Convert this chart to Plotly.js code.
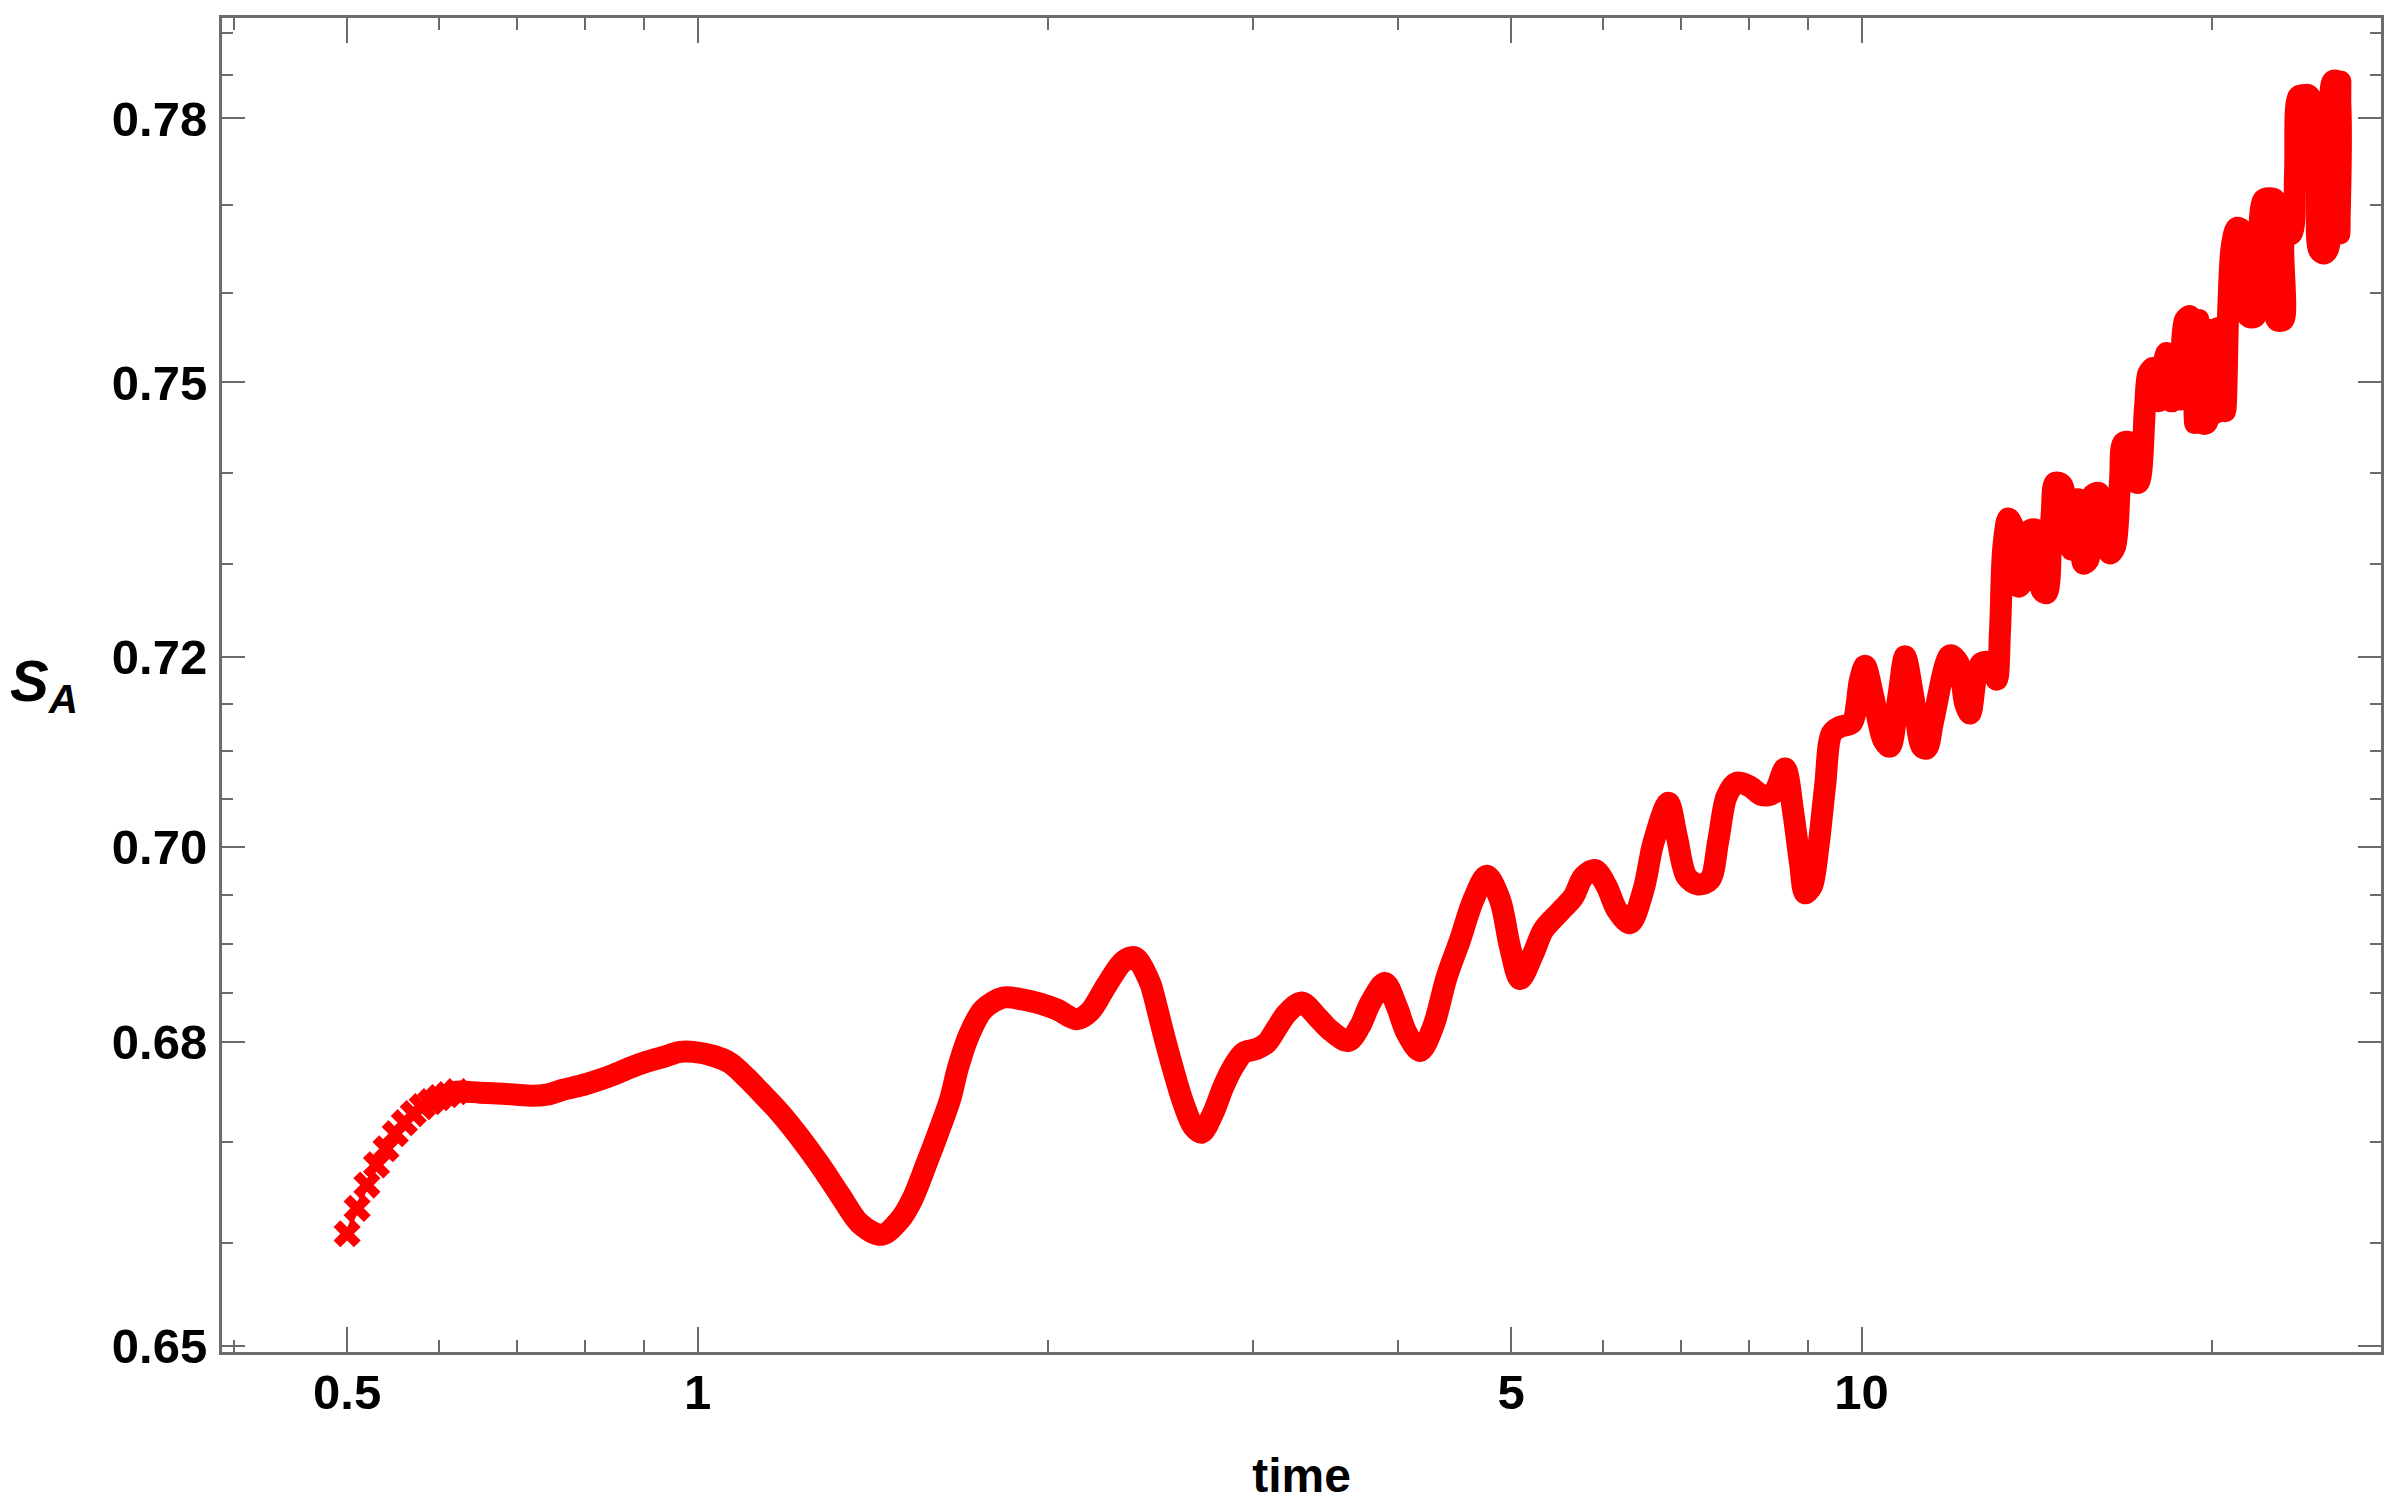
<!DOCTYPE html>
<html>
<head>
<meta charset="utf-8">
<script src="https://cdn.plot.ly/plotly-3.0.1.min.js"></script>
<style>
html, body { margin:0; padding:0; background:#ffffff; }
#chart { width:2400px; height:1509px; }
.scatterlayer path.js-line { stroke-linejoin: round !important; stroke-linecap: round !important; }
</style>
</head>
<body>
<div id="chart"></div>
<script>
// time values (x) and S_A values (y)
const time = [
  0.50, 0.51, 0.52, 0.53, 0.54, 0.55, 0.56, 0.57, 0.58, 0.59, 0.60, 0.61,
  0.621, 0.650, 0.681, 0.718, 0.742, 0.767, 0.793, 0.819, 0.847, 0.875, 0.904, 0.935, 0.966, 0.992,
  1.032, 1.066, 1.102, 1.132, 1.177, 1.225, 1.274, 1.326, 1.379, 1.440, 1.493, 1.528, 1.574, 1.610,
  1.648, 1.675, 1.714, 1.760, 1.831, 1.905, 1.969, 2.035, 2.117, 2.174, 2.247, 2.322, 2.376, 2.448,
  2.464, 2.513, 2.563, 2.614, 2.667, 2.711, 2.774, 2.830, 2.886, 2.944, 3.023, 3.083, 3.145, 3.208,
  3.304, 3.404, 3.495, 3.624, 3.708, 3.783, 3.896, 3.988, 4.067, 4.176, 4.287, 4.402, 4.520, 4.640,
  4.765, 4.892, 4.989, 5.089, 5.225, 5.329, 5.508, 5.655, 5.768, 5.903, 6.041, 6.162, 6.326, 6.495,
  6.625, 6.824, 6.939, 7.077, 7.241, 7.411, 7.534, 7.660, 7.813, 8.022, 8.209, 8.400, 8.597, 8.739,
  8.855, 8.943, 9.063, 9.182, 9.304, 9.428, 9.585, 9.809, 9.971, 10.070, 10.237, 10.442, 10.581,
  10.756, 10.900, 11.080, 11.266, 11.378, 11.527, 11.914, 12.112, 12.273, 12.395, 12.561, 12.685,
  12.896, 13.068, 13.153, 13.239, 13.371, 13.549, 13.638, 13.774, 13.957, 14.144, 14.284, 14.426,
  14.570, 14.665, 14.861, 15.008, 15.158, 15.257, 15.409, 15.509, 15.664, 15.769, 15.977, 16.190,
  16.351, 16.513, 16.677, 16.786, 17.011, 17.122, 17.292, 17.523, 17.638, 17.813, 17.990, 18.111,
  18.291, 18.473, 18.657, 18.779, 18.966, 19.154, 19.345, 19.471, 19.603, 19.798, 19.860, 20.125,
  20.257, 20.527, 20.662, 20.801, 21.008, 21.217, 21.356, 21.496, 21.783, 21.925, 22.143, 22.439,
  22.662, 22.738, 23.037, 23.114, 23.423, 23.576, 23.731, 23.966, 24.205, 24.445, 24.610, 24.723,
  24.968, 25.181, 25.301, 25.402, 25.634, 25.736, 25.787
];
const sA = [
  0.6609, 0.6634, 0.6657, 0.6677, 0.6693, 0.6708, 0.6719, 0.6728, 0.6735, 0.6740, 0.6744, 0.6747,
  0.6750, 0.6749, 0.6748, 0.6746, 0.6747, 0.6752, 0.6756, 0.6761, 0.6767, 0.6774, 0.6780, 0.6785, 0.6790, 0.6790,
  0.6786, 0.6779, 0.6764, 0.6750, 0.6729, 0.6704, 0.6677, 0.6647, 0.6619, 0.6608, 0.6623, 0.6642, 0.6679, 0.6709,
  0.6742, 0.6775, 0.6809, 0.6833, 0.6845, 0.6843, 0.6839, 0.6833, 0.6823, 0.6831, 0.6858, 0.6882, 0.6886, 0.6860,
  0.6849, 0.6809, 0.6772, 0.6739, 0.6715, 0.6709, 0.6729, 0.6755, 0.6775, 0.6789, 0.6793, 0.6799, 0.6814, 0.6829,
  0.6840, 0.6826, 0.6812, 0.6801, 0.6816, 0.6839, 0.6860, 0.6836, 0.6809, 0.6791, 0.6816, 0.6866, 0.6904, 0.6945,
  0.6970, 0.6945, 0.6897, 0.6864, 0.6890, 0.6914, 0.6933, 0.6948, 0.6969, 0.6976, 0.6959, 0.6935, 0.6921, 0.6955,
  0.7004, 0.7046, 0.7011, 0.6969, 0.6961, 0.6966, 0.7007, 0.7053, 0.7067, 0.7063, 0.7054, 0.7056, 0.7082, 0.7035,
  0.6983, 0.6952, 0.6959, 0.7000, 0.7063, 0.7119, 0.7126, 0.7130, 0.7176, 0.7191, 0.7158, 0.7112, 0.7105,
  0.7158, 0.7201, 0.7158, 0.7105, 0.7103, 0.7133, 0.7202, 0.7194, 0.7151, 0.7140, 0.7183, 0.7194,
  0.7194, 0.7176, 0.7229, 0.7319, 0.7350, 0.7334, 0.7276, 0.7283, 0.7337, 0.7337, 0.7272, 0.7269,
  0.7356, 0.7389, 0.7387, 0.7356, 0.7316, 0.7370, 0.7370, 0.7301, 0.7305, 0.7374, 0.7378, 0.7356,
  0.7312, 0.7319, 0.7392, 0.7433, 0.7433, 0.7392, 0.7389, 0.7473, 0.7510, 0.7516, 0.7479, 0.7510,
  0.7533, 0.7479, 0.7533, 0.7481, 0.7570, 0.7574, 0.7455, 0.7570, 0.7455, 0.7455, 0.7559, 0.7466,
  0.7561, 0.7468, 0.7585, 0.7653, 0.7674, 0.7672, 0.7660, 0.7574, 0.7574, 0.7623, 0.7706, 0.7708,
  0.7706, 0.7570, 0.7570, 0.7664, 0.7668, 0.7737, 0.7825, 0.7827, 0.7827, 0.7814, 0.7718, 0.7649,
  0.7645, 0.7651, 0.7737, 0.7843, 0.7843, 0.7668, 0.7843
];

const xTickVals = [0.5, 1, 5, 10];
const xTickText = ['0.5', '1', '5', '10'];
const xMinorVals = [0.4, 0.6, 0.7, 0.8, 0.9, 2, 3, 4, 6, 7, 8, 9, 20];
const yTickVals = [0.65, 0.68, 0.70, 0.72, 0.75, 0.78];
const yTickText = ['0.65', '0.68', '0.70', '0.72', '0.75', '0.78'];
const yMinorVals = [0.66, 0.67, 0.685, 0.69, 0.695, 0.705, 0.71, 0.715, 0.73, 0.74, 0.76, 0.77, 0.785, 0.79];

const firstSparse = 12; // the first points are drawn as separate markers

const RED = '#ff0000';
const FRAME = '#6b6b6b';
const FONT = 'Liberation Sans, Arial, Helvetica, sans-serif';

const traces = [
  {
    x: time.slice(firstSparse - 1),
    y: sA.slice(firstSparse - 1),
    type: 'scatter',
    mode: 'lines',
    line: { color: RED, width: 22, shape: 'spline', smoothing: 0.9 },
    showlegend: false
  },
  {
    x: time.slice(0, firstSparse + 1),
    y: sA.slice(0, firstSparse + 1),
    type: 'scatter',
    mode: 'lines+markers',
    line: { color: RED, width: 4, shape: 'spline', smoothing: 0.9 },
    marker: { symbol: 'x', size: 24, color: RED, line: { width: 0 } },
    showlegend: false
  }
];

const axisCommon = {
  type: 'log',
  ticks: 'inside',
  tickwidth: 2,
  tickcolor: FRAME,
  showline: true,
  linewidth: 3,
  linecolor: FRAME,
  mirror: 'ticks',
  showgrid: false,
  zeroline: false,
  tickmode: 'array',
  tickfont: { family: FONT, size: 49, color: '#000000', weight: 'bold' }
};

const layout = {
  width: 2400,
  height: 1509,
  paper_bgcolor: '#ffffff',
  plot_bgcolor: '#ffffff',
  margin: { l: 222, r: 19, t: 18, b: 157 },
  showlegend: false,
  xaxis: Object.assign({}, axisCommon, {
    range: [-0.40851, 1.44631],
    tickvals: xTickVals,
    ticktext: xTickText,
    ticklen: 25,
    ticklabelstandoff: -5,
    minor: { tickmode: 'array', tickvals: xMinorVals, ticks: 'inside', ticklen: 12, tickwidth: 2, tickcolor: FRAME, showgrid: false },
    title: { text: 'time', font: { family: FONT, size: 48, color: '#000000', weight: 'bold' }, standoff: 41 }
  }),
  yaxis: Object.assign({}, axisCommon, {
    range: [-0.187491, -0.101426],
    tickvals: yTickVals,
    ticktext: yTickText,
    ticklen: 23,
    ticklabelstandoff: 2,
    minor: { tickmode: 'array', tickvals: yMinorVals, ticks: 'inside', ticklen: 11, tickwidth: 2, tickcolor: FRAME, showgrid: false }
  }),
  annotations: [
    {
      xref: 'paper', yref: 'paper',
      x: -0.0991, y: 0.5,
      xanchor: 'left', yanchor: 'middle',
      showarrow: false,
      text: '<i>S</i><sub><i>A</i></sub>',
      font: { family: FONT, size: 58, color: '#000000', weight: 'bold' }
    }
  ]
};

Plotly.newPlot('chart', traces, layout, { displayModeBar: false, staticPlot: true });
</script>
</body>
</html>
